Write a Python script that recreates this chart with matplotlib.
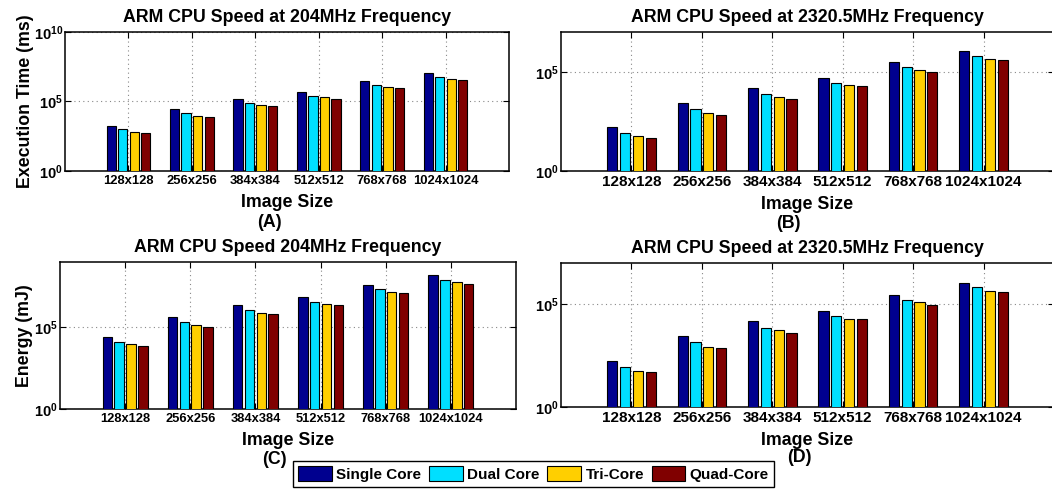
#!/usr/bin/env python3
# -*- coding: utf-8 -*-
import numpy as np
import matplotlib
matplotlib.use("Agg")
import matplotlib.pyplot as plt
from matplotlib.ticker import FixedLocator, NullLocator

# ---- data ----
sizes = ["128x128", "256x256", "384x384", "512x512", "768x768", "1024x1024"]
cores = ["Single Core", "Dual Core", "Tri-Core", "Quad-Core"]
colors = ["#00008F", "#00DFFF", "#FFCF00", "#800000"]

# (A) execution time, 204 MHz (ms)
time_204_single = [1862, 30200, 154900, 512900, 2951000, 10960000]
time_204_dual = [977, 14790, 81280, 269200, 1514000, 5623000]
time_204_tri = [661, 9550, 54950, 204200, 1096000, 4074000]
time_204_quad = [537, 8128, 46770, 162200, 891300, 3311000]

# (B) execution time, 2320.5 MHz (ms)
time_2320_single = [162, 2692, 14450, 46770, 295100, 1122000]
time_2320_dual = [81, 1349, 7244, 25700, 166000, 631000]
time_2320_tri = [58, 871, 5129, 20420, 117500, 446700]
time_2320_quad = [47, 692, 4266, 18200, 100000, 371500]

# (C) energy, 204 MHz (mJ)
energy_204_single = [24550, 407400, 2188000, 6918000, 40740000, 151400000]
energy_204_dual = [12300, 199500, 1122000, 3802000, 21380000, 81280000]
energy_204_tri = [8913, 131800, 776200, 2754000, 15490000, 56230000]
energy_204_quad = [6761, 109600, 645700, 2291000, 12880000, 46770000]

# (D) energy, 2320.5 MHz (mJ)
energy_2320_single = [166, 2692, 14790, 47860, 281800, 1122000]
energy_2320_dual = [85, 1380, 7079, 25120, 162200, 645700]
energy_2320_tri = [58, 871, 5248, 19950, 120200, 457100]
energy_2320_quad = [48, 708, 4169, 18200, 95500, 380200]

W, H = 1052, 491


def draw_panel(ax, series, title, letter, letter_xy, ylabel, ytop, yticks, xfs,
               ylab_x=None):
    """画一个分组柱状图 (MATLAB 风格)"""
    x = np.arange(1, len(sizes) + 1)
    pitch = 0.182
    ax.set_yscale("log")
    bars = []
    for k, vals in enumerate(series):
        b = ax.bar(x + (k - 1.5) * pitch, vals, width=0.145, color=colors[k],
                   edgecolor="black", linewidth=0.8, zorder=3, label=cores[k])
        bars.append(b)
    ax.set_xlim(0, 7)
    ax.set_ylim(1, ytop)
    ax.set_xticks(x)
    ax.set_xticklabels(sizes, fontsize=xfs)
    ax.yaxis.set_major_locator(FixedLocator(yticks))
    ax.yaxis.set_minor_locator(NullLocator())
    ax.set_yticklabels([r"$10^{%d}$" % int(np.log10(t)) for t in yticks], fontsize=10.5)
    ax.tick_params(direction="in", top=True, right=True, length=4, width=0.8, pad=3)
    ax.tick_params(axis="y", pad=1.5)
    ax.grid(True, linestyle=(0, (1, 3)), color="#888888", linewidth=0.8, zorder=0)
    ax.set_axisbelow(True)
    for s in ax.spines.values():
        s.set_linewidth(1.1)
    ax.set_title(title, fontsize=12.8, fontweight="bold", pad=7)
    ax.set_xlabel("Image Size", fontsize=12.8, fontweight="bold", labelpad=5)
    # 子图编号 (A)(B)... 放在 xlabel 下面
    fig.text(letter_xy[0] / W, 1 - letter_xy[1] / H, "(" + letter + ")",
             fontsize=12.8, fontweight="bold", ha="center", va="center")
    if ylabel:
        # 旋转后的 ylabel 锚点在文字右侧
        ax.set_ylabel(ylabel, fontsize=12.8, fontweight="bold")
        ax.yaxis.set_label_coords(ylab_x, 0.5)
    return bars


plt.rcParams["font.family"] = ["Liberation Sans", "DejaVu Sans"]
plt.rcParams["font.weight"] = "bold"
plt.rcParams["mathtext.fontset"] = "custom"
plt.rcParams["mathtext.rm"] = "Liberation Sans:bold"
plt.rcParams["mathtext.it"] = "Liberation Sans:bold"
plt.rcParams["mathtext.bf"] = "Liberation Sans:bold"

fig = plt.figure(figsize=(W / 100, H / 100), dpi=100)


def box(l, t, r, b):
    return [l / W, 1 - b / H, (r - l) / W, (b - t) / H]


axA = fig.add_axes(box(65, 32, 509, 171))
axB = fig.add_axes(box(561, 32, 1054, 171))
axC = fig.add_axes(box(60, 262, 516, 409))
axD = fig.add_axes(box(561, 263, 1054, 407))

bars = draw_panel(axA, [time_204_single, time_204_dual, time_204_tri, time_204_quad],
                  "ARM CPU Speed at 204MHz Frequency", "A", (269, 222),
                  "Execution Time (ms)", 1e10, [1, 1e5, 1e10], 9.4, ylab_x=-0.07)
draw_panel(axB, [time_2320_single, time_2320_dual, time_2320_tri, time_2320_quad],
           "ARM CPU Speed at 2320.5MHz Frequency", "B", (788, 223),
           None, 1e7, [1, 1e5], 11)
draw_panel(axC, [energy_204_single, energy_204_dual, energy_204_tri, energy_204_quad],
           "ARM CPU Speed 204MHz Frequency", "C", (274, 459),
           "Energy (mJ)", 1e9, [1, 1e5], 9.3, ylab_x=-0.059)
draw_panel(axD, [energy_2320_single, energy_2320_dual, energy_2320_tri, energy_2320_quad],
           "ARM CPU Speed at 2320.5MHz Frequency", "D", (799, 458),
           None, 1e7, [1, 1e5], 11)

leg = fig.legend(bars, cores, loc="center", bbox_to_anchor=(533.5 / W, 1 - 474 / H),
                 ncol=4, fontsize=11, handlelength=2.2, handleheight=1.15,
                 handletextpad=0.3, columnspacing=0.5, borderpad=0.35,
                 fancybox=False, edgecolor="black", framealpha=1)
leg.get_frame().set_linewidth(1.0)

plt.savefig("out.png", dpi=100)
